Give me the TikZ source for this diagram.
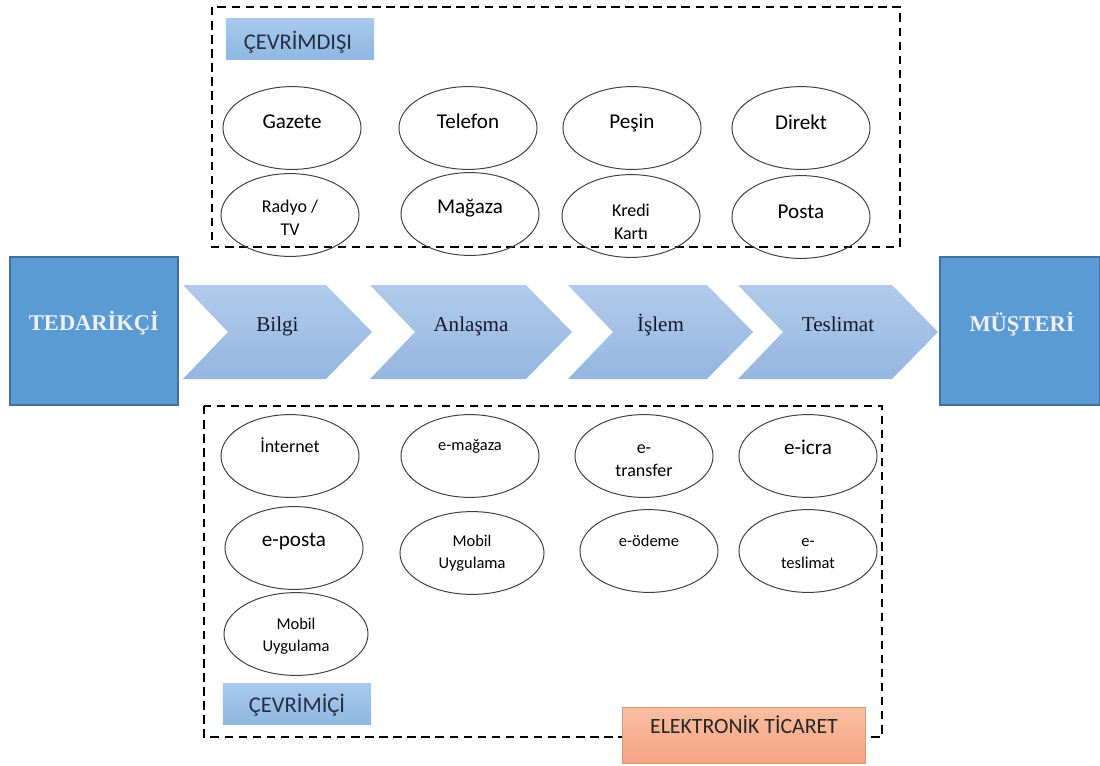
\documentclass[tikz,border=0pt]{standalone}
\usepackage{fontspec}
\setmainfont{Carlito}
\newfontfamily\timesfont{Liberation Serif}
\usepackage{tikz}
\usetikzlibrary{calc,shapes.geometric}

\definecolor{partyfill}{RGB}{91,155,213}
\definecolor{partyedge}{RGB}{65,113,156}
\definecolor{chevtop}{RGB}{178,202,234}
\definecolor{chevbot}{RGB}{148,182,224}
\definecolor{chevtext}{RGB}{20,24,48}
\definecolor{tagtop}{RGB}{168,201,236}
\definecolor{tagbot}{RGB}{143,183,227}
\definecolor{tagtext}{RGB}{38,45,66}
\definecolor{ectop}{RGB}{250,190,162}
\definecolor{ecbot}{RGB}{245,163,130}
\definecolor{ecedge}{RGB}{222,150,118}

\tikzset{
  party/.style={draw=partyedge, line width=1pt, fill=partyfill,
    minimum height=3.7cm, inner sep=0pt},
  party text/.style={anchor=base, text=white!94!black,
    font=\timesfont\bfseries\fontsize{16}{19}\selectfont},
  chevron/.style={top color=chevtop, bottom color=chevbot, draw=none},
  stage text/.style={anchor=base, text=chevtext,
    font=\timesfont\fontsize{15}{18}\selectfont},
  oval/.style={ellipse, draw=black!75, line width=0.7pt,
    minimum width=3.45cm, minimum height=2.07cm, inner sep=0pt},
  wide/.style={minimum width=3.6cm},
  big/.style={anchor=base, align=center, font=\fontsize{15}{18}\selectfont},
  mid/.style={anchor=base, align=center, font=\fontsize{12.8}{15.8}\selectfont},
  small/.style={anchor=base, align=center, font=\fontsize{11.7}{15}\selectfont},
  dashbox/.style={draw=black, line width=1.2pt, dash pattern=on 6pt off 4pt},
  tag/.style={top color=tagtop, bottom color=tagbot, draw=none,
    minimum width=3.7cm, minimum height=1.02cm, inner sep=0pt},
  tag text/.style={anchor=base, text=tagtext, font=\fontsize{16}{19}\selectfont},
  ec/.style={top color=ectop, bottom color=ecbot, draw=ecedge, line width=0.6pt,
    minimum width=6.07cm, minimum height=1.4cm, inner sep=0pt},
  ec text/.style={anchor=base, text=black!85, font=\fontsize{15.5}{18}\selectfont}
}

% chevron: name, left x, tip x, label
\def\Chevron#1#2#3#4{%
  \shade[chevron] (#2,285) -- ({#3-46},285) -- (#3,332) -- ({#3-46},379)
    -- (#2,379) -- ({#2+45},332) -- cycle;
  \node[stage text] (#1) at ({(#2+#3)/2},331) {#4};
}
% oval: name, x, y, base y of last line, text style, oval opts, text
\def\Oval#1#2#3#4#5#6#7{%
  \node[oval,#6] (#1) at (#2,#3) {};
  \node[#5] (#1-txt) at (#2,#4) {#7};
}

\begin{document}
\begin{tikzpicture}[x=0.025cm, y=-0.025cm]
\useasboundingbox (0,0) rectangle (1100,765);

% frames
\draw[dashbox] (212,7) rectangle (900,247);
\draw[dashbox] (204,406) rectangle (882,737);

% supplier / customer
\node[party, minimum width=4.2cm] (tedarikci) at (94,331) {};
\node[party text] (tedarikci-txt) at (94,330) {TEDARİKÇİ};
\node[party, minimum width=4cm] (musteri) at (1020,331) {};
\node[party text] (musteri-txt) at (1022,331) {MÜŞTERİ};

% process chain
\Chevron{bilgi}{183}{372}{Bilgi}
\Chevron{anlasma}{370}{572}{Anlaşma}
\Chevron{islem}{568}{753}{İşlem}
\Chevron{teslimat}{738}{938}{Teslimat}

% offline
\node[tag] (cevrimdisi) at (300,39) {};
\node[tag text] (cevrimdisi-txt) at (298,49) {ÇEVRİMDIŞI};
\Oval{gazete}{292}{128}{128}{big}{}{Gazete}
\Oval{telefon}{468}{128}{128}{big}{}{Telefon}
\Oval{pesin}{632}{128}{128}{big}{}{Peşin}
\Oval{direkt}{801}{128}{129}{big}{}{Direkt}
\Oval{radyo}{290}{215}{235}{mid}{}{Radyo /\\TV}
\Oval{magaza}{470}{214}{213}{big}{}{Mağaza}
\Oval{kredi}{631}{216}{239}{mid}{}{Kredi\\Kartı}
\Oval{posta}{801}{217}{218}{big}{}{Posta}

% online
\Oval{internet}{290}{456}{452}{mid}{}{İnternet}
\Oval{emagaza}{470}{456}{450}{small}{}{e-mağaza}
\Oval{etransfer}{644}{456}{476}{mid}{}{e-\\transfer}
\Oval{eicra}{808}{456}{454}{big}{}{e-icra}
\Oval{eposta}{294}{548}{546}{big}{}{e-posta}
\Oval{mobil}{472}{553}{568}{small}{wide}{Mobil\\Uygulama}
\Oval{eodeme}{649}{551}{546}{small}{}{e-ödeme}
\Oval{eteslimat}{808}{551}{568}{small}{}{e-\\teslimat}
\Oval{mobilb}{296}{634}{651}{small}{wide}{Mobil\\Uygulama}
\node[tag] (cevrimici) at (297,704) {};
\node[tag text] (cevrimici-txt) at (297,712) {ÇEVRİMİÇİ};

\node[ec] (eticaret) at (744,735) {};
\node[ec text] (eticaret-txt) at (744,733) {ELEKTRONİK TİCARET};
\end{tikzpicture}
\end{document}
